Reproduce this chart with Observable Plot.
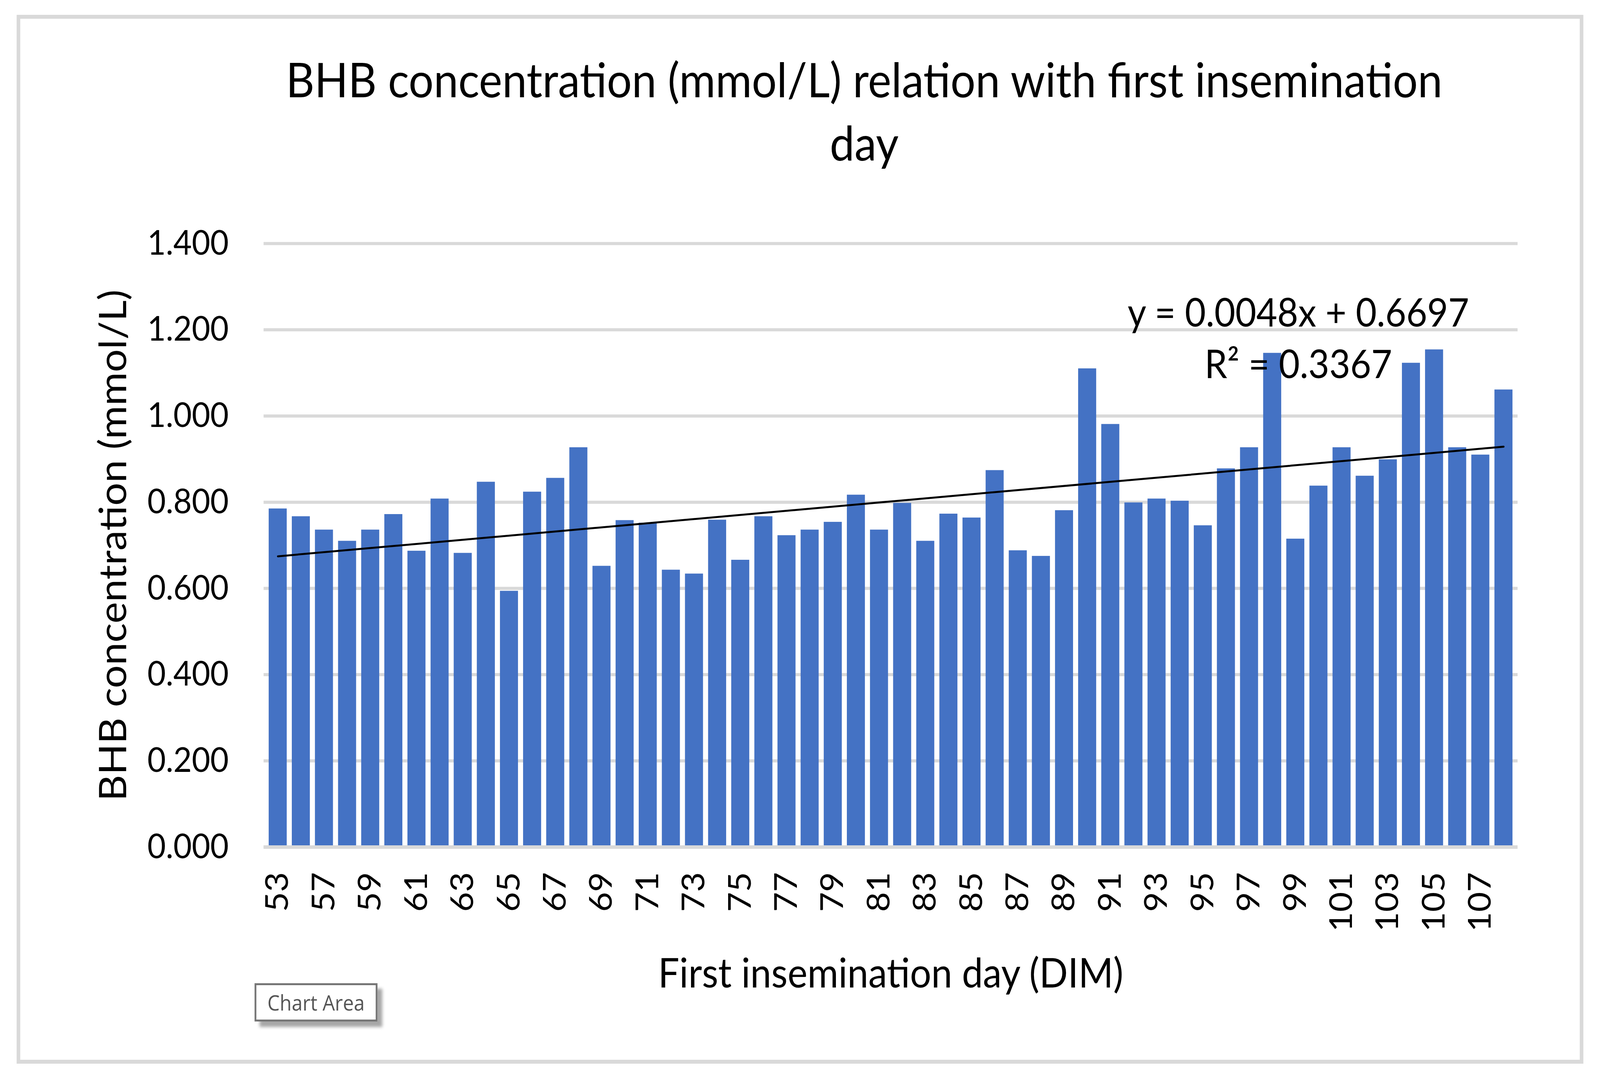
<!DOCTYPE html>
<html>
<head>
<meta charset="utf-8">
<script src="https://cdn.jsdelivr.net/npm/d3@7"></script>
<script src="https://cdn.jsdelivr.net/npm/@observablehq/plot@0.6"></script>
<style>
  html, body { margin: 0; padding: 0; background: #ffffff; overflow: hidden; }
  #page { position: absolute; left: 0; top: 0; width: 4425px; height: 2775px; background: #ffffff; overflow: hidden; font-family: Lato, "Open Sans", sans-serif; transform-origin: 0 0; }
  #frame { position: absolute; left: 46px; top: 38px; width: 4333px; height: 2685px; border: 10px solid #d9d9d9; box-sizing: border-box; }
  #title { position: absolute; left: 2390px; top: 121px; transform: translateX(-50%); font-size: 122px; line-height: 162px; text-align: center; white-space: nowrap; color: #000; }
  #chart { position: absolute; left: 0; top: 470px; }
  #tip { position: absolute; left: 704px; top: 2517px; width: 340px; height: 98px; box-sizing: border-box; border: 5px solid #767676; background: #fff; box-shadow: 14px 14px 8px rgba(0,0,0,0.35); font-family: "Open Sans", sans-serif; font-size: 54px; color: #555; display: flex; align-items: center; justify-content: center; }
</style>
</head>
<body>
<div id="page">
  <div id="frame"></div>
  <div id="title">BHB concentration (mmol/L) relation with first insemination<br>day</div>
  <div id="chart"></div>
  <div id="tip">Chart Area</div>
</div>
<script>
// Categories: first insemination day (DIM)
const days = [53, 55, 57, 58, 59, 60, 61, 62, 63, 64, 65, 66, 67, 68, 69, 70, 71, 72, 73, 74,
  75, 76, 77, 78, 79, 80, 81, 82, 83, 84, 85, 86, 87, 88, 89, 90, 91, 92, 93, 94,
  95, 96, 97, 98, 99, 100, 101, 102, 103, 104, 105, 106, 107, 108];
// BHB concentration (mmol/L)
const bhb = [0.785, 0.767, 0.736, 0.710, 0.736, 0.772, 0.687, 0.808, 0.682, 0.847,
  0.594, 0.824, 0.856, 0.927, 0.652, 0.758, 0.752, 0.643, 0.634, 0.759,
  0.666, 0.767, 0.723, 0.736, 0.754, 0.817, 0.736, 0.798, 0.710, 0.773,
  0.764, 0.874, 0.688, 0.675, 0.781, 1.110, 0.981, 0.799, 0.808, 0.803,
  0.746, 0.878, 0.927, 1.146, 0.715, 0.838, 0.927, 0.861, 0.899, 1.123,
  1.154, 0.927, 0.910, 1.061];
// x tick labels shown on the axis
const xTickLabels = [53, 57, 59, 61, 63, 65, 67, 69, 71, 73, 75, 77, 79, 81, 83, 85, 87, 89, 91, 93, 95, 97, 99, 101, 103, 105, 107];
// y tick values
const yTicks = [0, 0.2, 0.4, 0.6, 0.8, 1.0, 1.2, 1.4];
// Linear trendline (Excel, x = category index 1..n)
const trendSlope = 0.0048;
const trendIntercept = 0.6697;
const trendLabel = ["y = 0.0048x + 0.6697", "R² = 0.3367"];
const trendLabelAt = [{day: 99, value: 1.088}];

const xLabel = "First insemination day (DIM)";
const yLabel = "BHB concentration (mmol/L)";

const data = days.map((d, i) => ({day: d, value: bhb[i]}));
const trend = [
  {day: days[0], value: trendSlope * 1 + trendIntercept},
  {day: days[days.length - 1], value: trendSlope * days.length + trendIntercept}
];

const chart = Plot.plot({
  width: 4425,
  height: 2240,
  marginLeft: 729,
  marginRight: 228,
  marginTop: 153,
  marginBottom: 542,
  style: {fontFamily: "Lato, 'Open Sans', sans-serif", color: "#000", background: "transparent"},
  x: {type: "band", domain: days, padding: 0.22},
  y: {domain: [0, 1.4]},
  marks: [
    Plot.ruleY(yTicks, {stroke: "#d9d9d9", strokeWidth: 8}),
    Plot.barY(data, {x: "day", y: "value", fill: "#4472C4"}),
    Plot.ruleY([0], {stroke: "#d9d9d9", strokeWidth: 9}),
    Plot.line(trend, {x: "day", y: "value", stroke: "#000", strokeWidth: 5}),
    Plot.text(trendLabelAt, {x: "day", y: "value", text: () => trendLabel.join("\n"), fontSize: 100, lineHeight: 1.32, textAnchor: "middle", lineAnchor: "bottom", dx: 8, fill: "#000"}),
    Plot.axisY({ticks: yTicks, tickFormat: d3.format(".3f"), tickSize: 0, tickPadding: 97, fontSize: 88, label: null}),
    Plot.axisX({ticks: xTickLabels, tickRotate: -90, tickSize: 0, tickPadding: 64, fontSize: 88, label: null}),
    Plot.text([yLabel], {frameAnchor: "left", dx: -414, rotate: -90, fontSize: 104, textAnchor: "middle", lineAnchor: "middle", fill: "#000"}),
    Plot.text([xLabel], {frameAnchor: "bottom", dy: 326, fontSize: 104, textAnchor: "middle", lineAnchor: "middle", fill: "#000"})
  ]
});
document.getElementById("chart").appendChild(chart);

// Fit the 4425×2775 layout to the actual viewport.
function fit() {
  const w = window.innerWidth || 4425, h = window.innerHeight || 2775;
  document.getElementById("page").style.transform = `scale(${w / 4425}, ${h / 2775})`;
}
fit();
window.addEventListener("resize", fit);
</script>
</body>
</html>
